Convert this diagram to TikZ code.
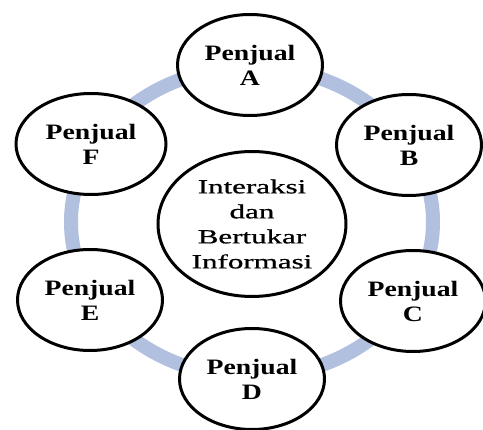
\documentclass[tikz,border=0pt]{standalone}
\usepackage{fontspec}
\setmainfont{Liberation Serif}
\newfontfamily\hubfont[FakeBold=0.7]{Liberation Serif}
\usetikzlibrary{shapes.geometric}
\definecolor{ringblue}{RGB}{176,192,222}
\newcommand\sxb[1]{\scalebox{1.26}[1]{#1}}
\newcommand\sxc[1]{\scalebox{1.55}[1]{#1}}
\begin{document}
\begin{tikzpicture}[x=1pt,y=-1pt,
  seller/.style={ellipse,draw=black,line width=3pt,fill=white,
    minimum width=145pt,minimum height=101pt,inner sep=0pt,align=center,
    font=\fontsize{22}{25}\selectfont\bfseries},
  hub/.style={ellipse,draw=black,line width=3pt,fill=white,
    minimum width=188pt,minimum height=145pt,inner sep=0pt,align=center,
    font=\hubfont\fontsize{20}{25}\selectfont},
  ring/.style={draw=ringblue,line width=14pt}]
\useasboundingbox (0,0) rectangle (483,430);
\coordinate (ctr) at (252,222);
\draw[ring] (ctr) ellipse [x radius=181, y radius=155];
\node[hub] (hub) at (252,224) {\sxc{Interaksi}\\\sxc{dan}\\\sxc{Bertukar}\\\sxc{Informasi}};
\node[seller] (A) at (250,65) {\sxb{Penjual}\\\sxb{A}};
\node[seller] (B) at (409,145) {\sxb{Penjual}\\\sxb{B}};
\node[seller] (C) at (413,301) {\sxb{Penjual}\\\sxb{C}};
\node[seller] (D) at (252,379) {\sxb{Penjual}\\\sxb{D}};
\node[seller] (E) at (90,300) {\sxb{Penjual}\\\sxb{E}};
\node[seller,minimum width=150pt] (F) at (91,144) {\sxb{Penjual}\\\sxb{F}};
\end{tikzpicture}
\end{document}
